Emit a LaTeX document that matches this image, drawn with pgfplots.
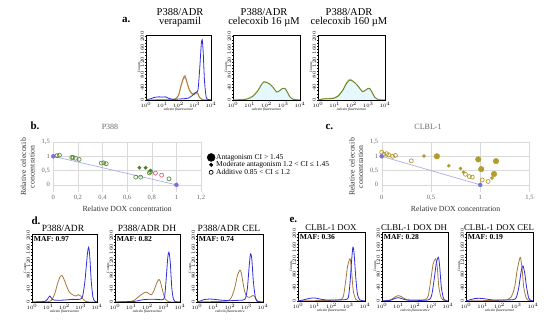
\documentclass[border=0pt]{standalone}
\usepackage{fontspec}
\setmainfont{Liberation Serif}
\usepackage{pgfplots}
\pgfplotsset{compat=1.18}

\definecolor{hblue}{HTML}{2E2EE0}
\definecolor{horange}{HTML}{A8783A}
\definecolor{hred}{HTML}{D0703C}
\definecolor{hgreen}{HTML}{7FB040}
\definecolor{hdkgreen}{HTML}{667A35}
\definecolor{hlgreen}{HTML}{B0CC48}
\definecolor{bgreen}{HTML}{4E7D2E}
\definecolor{bgreeno}{HTML}{5E8C3A}
\definecolor{bpink}{HTML}{E0607A}
\definecolor{ppurple}{HTML}{7E6FD6}
\definecolor{pline}{HTML}{A9AEE6}
\definecolor{olive}{HTML}{B39B2C}

\pgfplotsset{
 hist/.style={
  scale only axis, anchor=south west,
  xmin=0,xmax=4,ymin=0,ymax=205,
  xtick={0,1,2,3,4}, xticklabels={$10^0$,$10^1$,$10^2$,$10^3$,$10^4$},
  ytick={0,40,80,120,160,200},
  minor y tick num=3, minor x tick num=0,
  tick align=outside, tick pos=left,
  major tick length=1.5pt, minor tick length=0.8pt,
  tick style={line width=0.3pt, black},
  axis line style={line width=0.4pt},
  tick label style={font=\fontsize{3.5}{4}\selectfont},
  yticklabel style={rotate=90, anchor=south, inner sep=0.5pt},
  xticklabel style={inner sep=0.5pt},
  xlabel={\itshape calcein fluorescence}, ylabel={Counts},
  xlabel style={font=\fontsize{3.6}{4}\selectfont, yshift=3.5pt},
  ylabel style={font=\fontsize{3.6}{4}\selectfont, yshift=-3.5pt},
  every axis plot/.append style={line width=0.8pt, smooth, tension=0.45, no markers},
 },
 scat/.style={
  scale only axis, anchor=south west,
  ymin=-0.25, ymax=1.5, ytick={0,0.5,1,1.5},
  grid=major, major grid style={black!15, line width=0.4pt},
  axis line style={draw=none}, major tick length=0pt,
  tick label style={font=\fontsize{6.5}{7}\selectfont, text=black!60},
  /pgf/number format/use comma, /pgf/number format/assume math mode=true,
  label style={font=\fontsize{7.8}{8.6}\selectfont, text=black!80},
  xlabel={Relative DOX concentration},
  ylabel={Relative celecoxib\\concentration},
  ylabel style={align=center},
  xlabel style={yshift=2pt},
  clip=false,
 }
}

\begin{document}
\begin{tikzpicture}[font=\fontsize{8}{9}\selectfont]
\path[use as bounding box] (0,0) rectangle (550pt,327pt);

% ---------- panel a ----------
\node[anchor=base east, font=\bfseries\fontsize{11}{11}\selectfont] at (134pt,304pt) {a.};
\node[anchor=base, font=\fontsize{10.5}{11}\selectfont] at (180pt,311pt) {P388/ADR};
\node[anchor=base, font=\fontsize{10.5}{11}\selectfont] at (180pt,302pt) {verapamil};
\node[anchor=base, font=\fontsize{10.5}{11}\selectfont] at (264pt,311pt) {P388/ADR};
\node[anchor=base, font=\fontsize{10.5}{11}\selectfont] at (264pt,302pt) {celecoxib 16 µM};
\node[anchor=base, font=\fontsize{10.5}{11}\selectfont] at (349pt,311pt) {P388/ADR};
\node[anchor=base, font=\fontsize{10.5}{11}\selectfont] at (349pt,302pt) {celecoxib 160 µM};

\begin{axis}[hist, at={(146pt,227pt)}, width=65pt, height=65pt]
\addplot[hgreen] coordinates {(0,0) (1.5,1) (1.8,3) (2.0,14) (2.15,42) (2.3,66) (2.4,72) (2.5,58) (2.65,34) (2.8,20) (2.95,16) (3.1,22) (3.2,18) (3.3,7) (3.45,2) (3.6,0) (4,0)};
\addplot[hred] coordinates {(0,0) (1.5,1) (1.8,4) (2.0,15) (2.15,45) (2.3,70) (2.4,77) (2.5,60) (2.65,35) (2.8,22) (2.95,18) (3.1,25) (3.2,20) (3.3,8) (3.45,2) (3.6,0) (4,0)};
\addplot[hblue] coordinates {(0,1) (0.3,4) (0.5,8) (0.8,10) (1.0,9) (1.2,10) (1.4,5) (1.7,2) (2.0,3) (2.3,4) (2.6,6) (2.85,14) (3.0,22) (3.1,25) (3.2,32) (3.3,95) (3.4,175) (3.46,190) (3.52,150) (3.6,60) (3.7,10) (3.8,2) (4,0)};
\end{axis}

\begin{axis}[hist, at={(233pt,227pt)}, width=67pt, height=65pt]
\addplot[fill=cyan!10, draw=none] coordinates {(0,0) (0.6,1) (0.9,4) (1.2,12) (1.5,30) (1.7,48) (1.85,57) (2.0,55) (2.2,50) (2.4,40) (2.6,25) (2.75,28) (2.95,36) (3.1,37) (3.25,25) (3.4,10) (3.6,2) (4,0)} \closedcycle;
\addplot[hlgreen] coordinates {(0,0) (0.6,2) (0.9,5) (1.2,14) (1.5,32) (1.7,50) (1.85,58) (2.0,57) (2.2,50) (2.4,38) (2.6,26) (2.75,29) (2.95,37) (3.1,36) (3.25,23) (3.4,9) (3.6,2) (4,0)};
\addplot[hdkgreen!80!hgreen] coordinates {(0,0) (0.6,1) (0.9,4) (1.2,12) (1.5,30) (1.7,48) (1.85,57) (2.0,55) (2.2,50) (2.4,40) (2.6,25) (2.75,28) (2.95,36) (3.1,37) (3.25,25) (3.4,10) (3.6,2) (4,0)};
\end{axis}

\begin{axis}[hist, at={(318pt,227pt)}, width=67pt, height=65pt]
\addplot[fill=cyan!10, draw=none] coordinates {(0,0) (0.3,3) (0.6,4) (0.9,5) (1.2,12) (1.5,32) (1.7,52) (1.9,63) (2.05,60) (2.25,52) (2.45,40) (2.65,27) (2.8,30) (3.0,37) (3.1,36) (3.25,22) (3.4,8) (3.6,1) (4,0)} \closedcycle;
\addplot[hlgreen!90!yellow] coordinates {(0,0) (0.3,4) (0.6,5) (0.9,6) (1.2,14) (1.5,34) (1.7,55) (1.9,66) (2.05,62) (2.25,52) (2.45,39) (2.65,26) (2.8,29) (3.0,36) (3.1,35) (3.25,21) (3.4,8) (3.6,1) (4,0)};
\addplot[hdkgreen] coordinates {(0,0) (0.3,3) (0.6,4) (0.9,5) (1.2,12) (1.5,32) (1.7,52) (1.9,63) (2.05,60) (2.25,52) (2.45,40) (2.65,27) (2.8,30) (3.0,37) (3.1,36) (3.25,22) (3.4,8) (3.6,1) (4,0)};
\end{axis}

% ---------- panel b ----------
\node[anchor=base west, font=\bfseries\fontsize{11}{11}\selectfont] at (27pt,197pt) {b.};
\node[anchor=base, font=\fontsize{8}{9}\selectfont, text=black!60] at (110pt,197pt) {P388};
\begin{axis}[scat, at={(53.3pt,135pt)}, width=147.7pt, height=50pt,
  xmin=0, xmax=1.2, xtick={0,0.2,0.4,0.6,0.8,1,1.2},
  legend style={at={(rel axis cs:1.02,0.82)}, anchor=north west, draw=none, fill=none,
    font=\fontsize{7.5}{8}\selectfont, row sep=-1.2pt, nodes={inner sep=1pt}},
  legend cell align=left]
\addlegendimage{only marks, mark=*, mark size=4pt, black}
\addlegendentry{Antagonism CI > 1.45}
\addlegendimage{only marks, mark=*, mark size=1.8pt, black}
\addlegendentry{Moderate antagonism 1.2 < CI ≤ 1.45}
\addlegendimage{only marks, mark=o, mark size=2pt, black, mark options={line width=0.7pt}}
\addlegendentry{Additive 0.85 < CI ≤ 1.2}
\addplot[pline, line width=0.7pt, forget plot] coordinates {(0,1) (1,0)};
\addplot[only marks, mark=o, mark size=2pt, bgreeno, mark options={line width=0.7pt}, forget plot] coordinates {(0.03,1.02) (0.05,1.04) (0.15,0.96) (0.16,0.96) (0.18,0.93) (0.21,0.89) (0.39,0.76) (0.41,0.77) (0.43,0.74) (0.67,0.27) (0.71,0.27) (0.78,0.42) (0.79,0.46) (0.94,0.21)};
\addplot[only marks, mark=o, mark size=2pt, bpink, mark options={line width=0.7pt}, forget plot] coordinates {(0.83,0.41) (0.88,0.34)};
\addplot[only marks, mark=*, mark size=1.7pt, bgreen, forget plot] coordinates {(0.70,0.60) (0.75,0.60) (0.79,0.50)};
\addplot[only marks, mark=*, mark size=2pt, ppurple, forget plot] coordinates {(0,1) (1,0)};
\end{axis}

% ---------- panel c ----------
\node[anchor=base west, font=\bfseries\fontsize{11}{11}\selectfont] at (322pt,197pt) {c.};
\node[anchor=base, font=\fontsize{8}{9}\selectfont, text=black!60] at (428pt,197pt) {CLBL-1};
\begin{axis}[scat, at={(381.7pt,135pt)}, width=147.8pt, height=50pt,
  xmin=0, xmax=1.5, xtick={0,0.5,1,1.5}]
\addplot[pline, line width=0.7pt] coordinates {(0,1) (1,0)};
\addplot[only marks, mark=o, mark size=2pt, olive, mark options={line width=0.7pt}] coordinates {(0,1.14) (0.02,1.07) (0.05,1.09) (0.07,1.05) (0.11,1.0) (0.14,1.03) (0.30,0.84) (0.85,0.37) (0.89,0.29) (0.92,0.27) (1.02,0.17) (1.08,0.12)};
\addplot[only marks, mark=*, mark size=1.6pt, olive] coordinates {(0.43,1.01) (0.68,0.67) (0.80,0.57) (0.83,0.44) (1.12,0.24)};
\addplot[only marks, mark=*, mark size=2.8pt, olive] coordinates {(0.56,1.0) (0.98,0.89) (1.01,0.55) (1.14,0.38) (1.16,0.83)};
\addplot[only marks, mark=*, mark size=2pt, ppurple] coordinates {(0,1) (1,0)};
\end{axis}

% ---------- panel d ----------
\node[anchor=base west, font=\bfseries\fontsize{11}{11}\selectfont] at (28pt,102pt) {d.};
\node[anchor=base, font=\fontsize{9.5}{10}\selectfont] at (63pt,95.5pt) {P388/ADR};
\node[anchor=base, font=\fontsize{9.5}{10}\selectfont] at (147pt,95.5pt) {P388/ADR DH};
\node[anchor=base, font=\fontsize{9.5}{10}\selectfont] at (229pt,95.5pt) {P388/ADR CEL};

\begin{axis}[hist, at={(32pt,25pt)}, width=65pt, height=68pt]
\addplot[horange] coordinates {(0,0) (1.0,1) (1.2,5) (1.4,25) (1.6,60) (1.75,78) (1.85,80) (2.0,65) (2.15,45) (2.3,30) (2.5,22) (2.7,18) (2.85,22) (3.0,18) (3.15,8) (3.3,2) (3.5,0) (4,0)};
\addplot[hblue] coordinates {(0,0) (0.8,2) (1.0,12) (1.1,18) (1.25,8) (1.5,5) (2.0,6) (2.5,8) (2.9,8) (3.1,15) (3.25,60) (3.4,140) (3.48,165) (3.55,140) (3.65,60) (3.75,15) (3.85,3) (4,0)};
\node[anchor=north west, font=\bfseries\fontsize{7.6}{8}\selectfont, inner sep=1pt] at (rel axis cs:0.01,0.985) {MAF: 0.97};
\end{axis}

\begin{axis}[hist, at={(115pt,25pt)}, width=65pt, height=68pt]
\addplot[horange] coordinates {(0,0) (0.9,1) (1.2,6) (1.5,18) (1.8,28) (1.95,30) (2.1,24) (2.25,22) (2.4,35) (2.55,55) (2.7,68) (2.8,60) (2.95,30) (3.1,8) (3.25,2) (3.5,0) (4,0)};
\addplot[hblue] coordinates {(0,0) (1.2,2) (1.6,6) (2.0,8) (2.5,8) (2.9,7) (3.05,15) (3.15,70) (3.25,135) (3.32,150) (3.4,120) (3.5,40) (3.6,8) (3.7,1) (4,0)};
\node[anchor=north west, font=\bfseries\fontsize{7.6}{8}\selectfont, inner sep=1pt] at (rel axis cs:0.01,0.985) {MAF: 0.82};
\end{axis}

\begin{axis}[hist, at={(197pt,25pt)}, width=66pt, height=68pt]
\addplot[horange] coordinates {(0,0) (1.5,2) (1.9,4) (2.1,15) (2.3,45) (2.45,80) (2.6,96) (2.7,85) (2.85,40) (3.0,18) (3.2,14) (3.4,20) (3.55,12) (3.7,2) (4,0)};
\addplot[hblue] coordinates {(0,0) (0.2,3) (0.4,7) (0.8,9) (1.2,7) (1.6,5) (2.0,4) (2.5,5) (2.9,8) (3.05,40) (3.15,100) (3.24,145) (3.32,130) (3.42,60) (3.55,10) (3.7,1) (4,0)};
\node[anchor=north west, font=\bfseries\fontsize{7.6}{8}\selectfont, inner sep=1pt] at (rel axis cs:0.01,0.985) {MAF: 0.74};
\end{axis}

% ---------- panel e ----------
\node[anchor=base west, font=\bfseries\fontsize{11}{11}\selectfont] at (286pt,104pt) {e.};
\node[anchor=base, font=\fontsize{8.8}{10}\selectfont] at (331pt,96pt) {CLBL-1 DOX};
\node[anchor=base, font=\fontsize{8.8}{10}\selectfont] at (414pt,96pt) {CLBL-1 DOX DH};
\node[anchor=base, font=\fontsize{8.8}{10}\selectfont] at (499pt,96pt) {CLBL-1 DOX CEL};

\begin{axis}[hist, at={(298pt,26pt)}, width=67pt, height=69pt]
\addplot[horange] coordinates {(0,0) (1,1) (2,2) (2.5,4) (2.7,12) (2.85,60) (2.95,100) (3.05,120) (3.12,125) (3.2,90) (3.3,30) (3.45,5) (3.6,0) (4,0)};
\addplot[hblue] coordinates {(0,0) (0.3,3) (0.7,8) (1.0,9) (1.3,6) (1.7,3) (2.2,3) (2.8,4) (3.0,10) (3.1,50) (3.2,120) (3.28,160) (3.35,140) (3.45,70) (3.55,20) (3.7,3) (4,0)};
\node[anchor=north west, font=\bfseries\fontsize{7.6}{8}\selectfont, inner sep=1pt] at (rel axis cs:0.01,0.985) {MAF: 0.36};
\end{axis}

\begin{axis}[hist, at={(382pt,26pt)}, width=66pt, height=69pt]
\addplot[horange] coordinates {(0,0) (0.5,3) (0.8,12) (1.0,16) (1.2,12) (1.5,4) (2.0,3) (2.6,4) (2.8,15) (2.95,60) (3.1,110) (3.25,125) (3.35,100) (3.45,40) (3.6,8) (3.8,1) (4,0)};
\addplot[hblue] coordinates {(0,0) (0.5,2) (0.8,8) (1.0,10) (1.2,7) (1.5,3) (2.0,2) (2.8,3) (3.0,15) (3.15,60) (3.3,115) (3.42,130) (3.5,100) (3.6,40) (3.75,5) (4,0)};
\node[anchor=north west, font=\bfseries\fontsize{7.6}{8}\selectfont, inner sep=1pt] at (rel axis cs:0.01,0.985) {MAF: 0.28};
\end{axis}

\begin{axis}[hist, at={(466pt,26pt)}, width=67pt, height=69pt]
\addplot[horange] coordinates {(0,0) (1.0,1) (2.0,2) (2.5,4) (2.7,12) (2.9,40) (3.05,90) (3.2,125) (3.26,128) (3.35,95) (3.45,40) (3.6,8) (3.8,1) (4,0)};
\addplot[hblue] coordinates {(0,0) (0.2,3) (0.5,7) (0.8,8) (1.2,6) (1.6,3) (2.2,3) (2.8,4) (3.0,10) (3.15,40) (3.3,90) (3.4,104) (3.5,85) (3.62,40) (3.75,8) (3.9,1) (4,0)};
\node[anchor=north west, font=\bfseries\fontsize{7.6}{8}\selectfont, inner sep=1pt] at (rel axis cs:0.01,0.985) {MAF: 0.19};
\end{axis}

\end{tikzpicture}
\end{document}
